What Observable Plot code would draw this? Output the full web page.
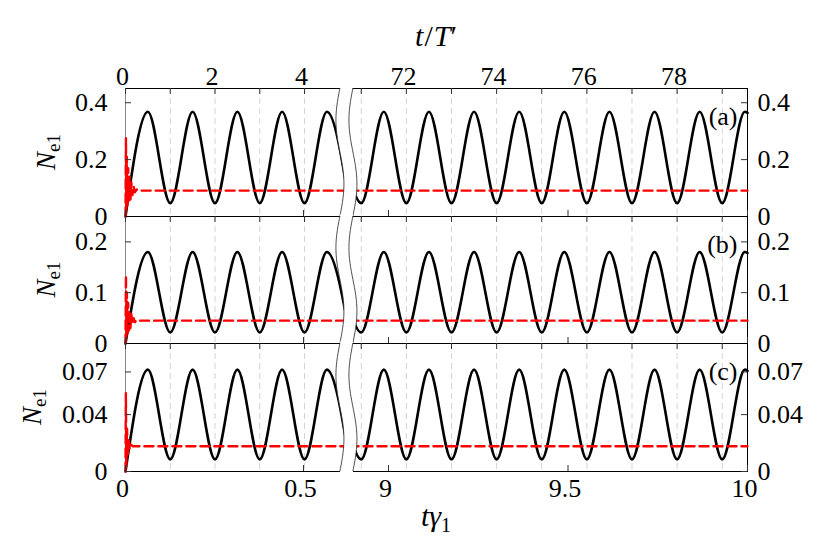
<!DOCTYPE html>
<html><head><meta charset="utf-8">
<script src="https://cdn.jsdelivr.net/npm/d3@7"></script>
<script src="https://cdn.jsdelivr.net/npm/@observablehq/plot@0.6"></script>
<style>
body{margin:0;background:#fff;}
#chart{width:830px;height:554px;position:relative;}
#chart svg{display:block;overflow:visible;font-family:'Liberation Serif','DejaVu Serif',serif;}
#chart svg text{font-family:'Liberation Serif','DejaVu Serif',serif;}
</style></head><body><div id="chart"></div>
<script>
// ---------------- data ----------------
const R = 7.956;                 // t/T' per unit of t*gamma1
const xBreak = [4.89, 70.74];    // axis break (t/T')
const topTickT = [0,1,2,3,4,71,72,73,74,75,76,77,78,79];
const topLabelT = [0,2,4,72,74,76,78];
const gridT = [1,2,3,4,71,72,73,74,75,76,77,78,79];
const bottomTickG = [0,0.5,9,9.5,10];
const bottomLabelG = ["0","0.5","9","9.5","10"];

// black curve: extrema (t/T')
const tLeft  = [0,0.5,1,1.5,2,2.5,3,3.5,4,4.5,5];
const tRight = [70.5,71,71.5,72,72.5,73,73.5,74,74.5,75,75.5,76,76.5,77,77.5,78,78.5,79,79.5,79.56];
const blackA_L = [0,0.368,0.047,0.368,0.047,0.368,0.047,0.368,0.047,0.368,0.047];
const blackA_R = [0.368,0.047,0.368,0.047,0.368,0.047,0.368,0.047,0.368,0.047,0.368,0.047,0.368,0.047,0.368,0.047,0.368,0.047,0.368,0.364];
const blackB_L = [0,0.180,0.0216,0.180,0.0216,0.180,0.0216,0.180,0.0216,0.180,0.0216];
const blackB_R = [0.180,0.0216,0.180,0.0216,0.180,0.0216,0.180,0.0216,0.180,0.0216,0.180,0.0216,0.180,0.0216,0.180,0.0216,0.180,0.0216,0.180,0.178];
const blackC_L = [0,0.0716,0.0085,0.0716,0.0085,0.0716,0.0085,0.0716,0.0085,0.0716,0.0085];
const blackC_R = [0.0716,0.0085,0.0716,0.0085,0.0716,0.0085,0.0716,0.0085,0.0716,0.0085,0.0716,0.0085,0.0716,0.0085,0.0716,0.0085,0.0716,0.0085,0.0716,0.0708];

// red dashed curve: early transient + steady value
const redA_T = [0,0.01,0.02,0.03,0.045,0.06,0.075,0.09,0.11,0.13,0.155,0.18,0.21,0.25,0.3,5];
const redA_L = [0,0.275,0.03,0.21,0.04,0.17,0.05,0.14,0.06,0.12,0.075,0.105,0.085,0.095,0.091,0.091];
const redB_T = [0,0.01,0.02,0.03,0.045,0.06,0.075,0.09,0.11,0.13,0.155,0.18,0.21,0.25,0.3,5];
const redB_L = [0,0.134,0.015,0.10,0.02,0.08,0.025,0.065,0.03,0.058,0.038,0.05,0.042,0.046,0.045,0.045];
const redC_T = [0,0.008,0.02,0.035,0.05,0.07,0.09,0.12,0.16,5];
const redC_L = [0,0.055,0.005,0.03,0.012,0.022,0.016,0.019,0.0178,0.0178];
const redRightT = [70.74,79.56];
const redA_R = [0.091,0.091];
const redB_R = [0.045,0.045];
const redC_R = [0.0178,0.0178];

const yTicksA = [0,0.2,0.4], yLabA = ["0","0.2","0.4"];
const yTicksB = [0,0.1,0.2], yLabB = ["0","0.1","0.2"];
const yTicksC = [0,0.04,0.07], yLabC = ["0","0.04","0.07"];

// ---------------- drawing ----------------
const FONT = "'Liberation Serif','DejaVu Serif',serif";
const W = 830, ML = 125, MR = 83;

function breakBand(index, scales, values, dim) {
  const cx = (scales.x(xBreak[0]) + scales.x(xBreak[1])) / 2;
  const y0 = dim.marginTop, y1 = dim.height - dim.marginBottom, h = y1 - y0;
  const half = 6.5, amp = 4, n = 48;
  const left = d3.range(n + 1).map(i => [cx - half - amp * Math.sin(2 * Math.PI * i / n), y0 + h * i / n]);
  const right = left.map(([x, y]) => [x + 2 * half, y]);
  const fillPts = [[left[0][0], y0 - 1.5], ...left, [left[n][0], y1 + 1.5], [right[n][0], y1 + 1.5], ...right.slice().reverse(), [right[0][0], y0 - 1.5]];
  const g = d3.create("svg:g");
  g.append("path").attr("d", d3.line()(fillPts) + "Z").attr("fill", "white");
  g.append("path").attr("d", d3.line()(left)).attr("fill", "none").attr("stroke", "#222").attr("stroke-width", 0.8);
  g.append("path").attr("d", d3.line()(right)).attr("fill", "none").attr("stroke", "#222").attr("stroke-width", 0.8);
  return g.node();
}

function yLabel(xBase) {
  return (index, scales, values, dim) => {
    const cy = (dim.marginTop + dim.height - dim.marginBottom) / 2;
    const t = d3.create("svg:text")
      .attr("transform", `translate(${xBase},${cy}) rotate(-90)`)
      .attr("text-anchor", "middle").attr("font-size", 27).attr("font-family", FONT).attr("fill", "black");
    t.append("tspan").attr("font-style", "italic").text("N");
    t.append("tspan").attr("font-size", 19).attr("dy", 5).text("e1");
    return t.node();
  };
}

function topTitle(index, scales, values, dim) {
  const cx = (dim.marginLeft + dim.width - dim.marginRight) / 2;
  const t = d3.create("svg:text").attr("x", cx).attr("y", dim.marginTop - 42)
    .attr("text-anchor", "middle").attr("font-size", 30).attr("font-family", FONT).attr("fill", "black");
  t.append("tspan").attr("font-style", "italic").text("t");
  t.append("tspan").attr("dx", 1).text("/");
  t.append("tspan").attr("font-style", "italic").attr("dx", 1).text("T");
  t.append("tspan").text("′");
  return t.node();
}

function bottomTitle(index, scales, values, dim) {
  const cx = (dim.marginLeft + dim.width - dim.marginRight) / 2;
  const t = d3.create("svg:text").attr("x", cx).attr("y", dim.height - dim.marginBottom + 55)
    .attr("text-anchor", "middle").attr("font-size", 30).attr("font-family", FONT).attr("fill", "black");
  t.append("tspan").attr("font-style", "italic").text("t");
  t.append("tspan").attr("font-style", "italic").text("γ");
  t.append("tspan").attr("font-size", 20).attr("dy", 6).text("1");
  return t.node();
}

function panel(cfg) {
  const {height, marginTop, marginBottom, yDomain, yTicks, yLabels, bL, bR, rT, rL, rR, letter, isTop, isBottom, labelX} = cfg;
  const innerH = height - marginTop - marginBottom, innerW = W - ML - MR;
  const black = [
    ...tLeft.map((t, i) => ({t, n: bL[i], seg: "L"})),
    ...tRight.map((t, i) => ({t, n: bR[i], seg: "R"}))
  ];
  const red = [
    ...rT.map((t, i) => ({t, n: rL[i], seg: "L"})),
    ...redRightT.map((t, i) => ({t, n: rR[i], seg: "R"}))
  ];
  const marks = [
    Plot.ruleX(gridT, {x: d => d, stroke: "#d4d4d4", strokeWidth: 1, strokeDasharray: "6,4"}),
    Plot.frame({stroke: "black", strokeWidth: 1}),
    Plot.ruleX([0], {x: d => d, stroke: "#888", strokeWidth: 1}),
    Plot.line(black, {x: "t", y: "n", z: "seg", curve: "monotone-x", stroke: "black", strokeWidth: 2.6}),
    Plot.line(red, {x: "t", y: "n", z: "seg", stroke: "#ff0000", strokeWidth: 2.4, strokeDasharray: "9,5"}),
    Plot.ruleX(topTickT, {x: d => d, stroke: "#333", insetBottom: innerH - 6}),
    Plot.ruleX(bottomTickG, {x: g => g * R, stroke: "#333", insetTop: innerH - 6}),
    Plot.ruleY(yTicks, {y: d => d, stroke: "#333", insetRight: innerW - 6}),
    Plot.ruleY(yTicks, {y: d => d, stroke: "#333", insetLeft: innerW - 6}),
    breakBand,
    Plot.text(yTicks, {y: d => d, text: (d, i) => yLabels[i], frameAnchor: "left", textAnchor: "end", dx: -18, fontSize: 26}),
    Plot.text(yTicks, {y: d => d, text: (d, i) => yLabels[i], frameAnchor: "right", textAnchor: "start", dx: 10, fontSize: 26}),
    Plot.text([letter], {text: d => d, frameAnchor: "top-right", textAnchor: "end", dx: -10, dy: 18, fontSize: 26}),
    yLabel(labelX)
  ];
  if (isTop) {
    marks.push(Plot.text(topLabelT, {x: d => d, text: d => String(d), frameAnchor: "top", dy: -22, dx: -3, fontSize: 26}));
    marks.push(topTitle);
  }
  if (isBottom) {
    marks.push(Plot.text(bottomTickG, {x: g => g * R, text: (d, i) => bottomLabelG[i], frameAnchor: "bottom", dy: 25, dx: -3, fontSize: 26}));
    marks.push(bottomTitle);
  }
  return Plot.plot({
    width: W, height, marginTop, marginBottom, marginLeft: ML, marginRight: MR,
    style: `font-family: ${FONT}; font-size: 26px; color: black; background: transparent; overflow: visible;`,
    x: {type: "linear", domain: [0, 5, 70.5, 79.56], range: [125, 348.75, 338.2, 747], axis: null},
    y: {domain: yDomain, axis: null},
    marks
  });
}

const chart = document.getElementById("chart");
chart.append(panel({height: 216, marginTop: 88, marginBottom: 0, yDomain: [0, 0.45], yTicks: yTicksA, yLabels: yLabA,
  bL: blackA_L, bR: blackA_R, rT: redA_T, rL: redA_L, rR: redA_R, letter: "(a)", isTop: true, labelX: 55}));
chart.append(panel({height: 127, marginTop: 0, marginBottom: 0, yDomain: [0, 0.25], yTicks: yTicksB, yLabels: yLabB,
  bL: blackB_L, bR: blackB_R, rT: redB_T, rL: redB_L, rR: redB_R, letter: "(b)", labelX: 55}));
chart.append(panel({height: 211, marginTop: 0, marginBottom: 83, yDomain: [0, 0.09], yTicks: yTicksC, yLabels: yLabC,
  bL: blackC_L, bR: blackC_R, rT: redC_T, rL: redC_L, rR: redC_R, letter: "(c)", isBottom: true, labelX: 41}));
</script></body></html>
